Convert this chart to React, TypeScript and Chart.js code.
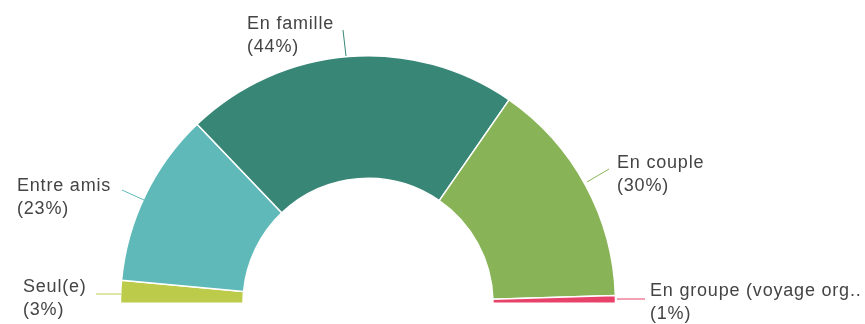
import React, { useEffect, useRef } from "react";
import { Chart, registerables } from "chart.js";

Chart.register(...registerables);

const categories = ["Seul(e)", "Entre amis", "En famille", "En couple", "En groupe (voyage org.."];
const values = [3, 23, 44, 30, 1];
const percentLabels = ["(3%)", "(23%)", "(44%)", "(30%)", "(1%)"];
const colors = ["#BCCB4A", "#5FB9B9", "#378676", "#88B457", "#E8416A"];

// label layout: text anchor (x, baseline y of first line) and leader line end points
const labelLayout = [
  { tx: 23, ty: 292, lx1: 96, ly1: 294, lx2: 121, ly2: 294 },
  { tx: 17, ty: 191, lx1: 122, ly1: 190, lx2: 144, ly2: 200 },
  { tx: 247, ty: 29, lx1: 343, ly1: 30, lx2: 346, ly2: 56 },
  { tx: 617, ty: 168, lx1: 609, ly1: 169, lx2: 587, ly2: 182 },
  { tx: 650, ty: 296, lx1: 617, ly1: 299, lx2: 645, ly2: 299 },
];

const labelPlugin = {
  id: "sideLabels",
  afterDraw(chart: any) {
    const ctx = chart.ctx;
    ctx.save();
    ctx.font = "18px 'Liberation Sans', Arial, sans-serif";
    try {
      (ctx as any).letterSpacing = "0.8px";
    } catch (e) {}
    ctx.textBaseline = "alphabetic";
    ctx.textAlign = "left";
    categories.forEach((c, i) => {
      const l = labelLayout[i];
      ctx.strokeStyle = colors[i];
      ctx.lineWidth = 1;
      ctx.beginPath();
      ctx.moveTo(l.lx1, l.ly1);
      ctx.lineTo(l.lx2, l.ly2);
      ctx.stroke();
      ctx.fillStyle = "#444444";
      ctx.fillText(c, l.tx, l.ty);
      ctx.fillText(percentLabels[i], l.tx, l.ty + 23);
    });
    ctx.restore();
  },
};

export default function App() {
  const ref = useRef<HTMLCanvasElement>(null);
  useEffect(() => {
    document.body.style.margin = "0";
    const chart = new Chart(ref.current!, {
      type: "doughnut",
      data: {
        labels: categories,
        datasets: [
          {
            data: values,
            backgroundColor: colors,
            borderColor: "#ffffff",
            borderWidth: 1.5,
          },
        ],
      },
      options: {
        responsive: false,
        animation: false,
        rotation: -90,
        circumference: 180,
        cutout: "50.5%",
        layout: { padding: { left: 68, right: 197, top: 55, bottom: 20 } },
        plugins: {
          legend: { display: false },
          tooltip: { enabled: false },
        },
      },
      plugins: [labelPlugin],
    });
    return () => chart.destroy();
  }, []);
  return (
    <div style={{ position: "absolute", left: 0, top: 0, width: 865, height: 324, background: "#fff" }}>
      <canvas ref={ref} width={865} height={324} />
    </div>
  );
}
